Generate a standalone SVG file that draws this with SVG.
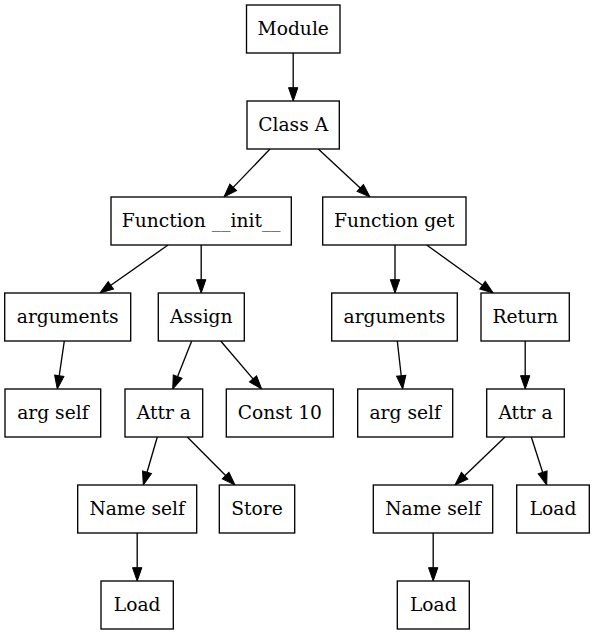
<svg xmlns="http://www.w3.org/2000/svg" width="595" height="635" viewBox="0 0 595 635">
<style>
.n rect{fill:#fff;stroke:#000;stroke-width:1.33}
.n text{font-family:"DejaVu Serif","Liberation Serif",serif;font-size:18.67px;text-anchor:middle;fill:#000}
#edges line{stroke:#000;stroke-width:1.33;marker-end:url(#ah)}
</style>
<defs>
<marker id="ah" markerUnits="userSpaceOnUse" markerWidth="16" markerHeight="12" refX="0" refY="4.67" orient="auto" overflow="visible">
<path d="M0,0 L13.33,4.67 L0,9.33 Z" fill="#000" stroke="#000" stroke-width="1"/>
</marker>
</defs>
<rect width="595" height="635" fill="#fff"/>
<g id="edges">
<line x1="293.2" y1="53" x2="293.2" y2="87.67"/>
<line x1="270" y1="149" x2="233.22" y2="187.37"/>
<line x1="318.3" y1="149" x2="360.23" y2="187.93"/>
<line x1="168" y1="245" x2="110.89" y2="285.31"/>
<line x1="201.2" y1="245" x2="201.2" y2="279.67"/>
<line x1="395" y1="245" x2="395" y2="279.67"/>
<line x1="426.7" y1="245" x2="482.49" y2="285.2"/>
<line x1="397.3" y1="341" x2="401.21" y2="375.75"/>
<line x1="525.2" y1="341" x2="525.2" y2="375.67"/>
<line x1="64.3" y1="341" x2="59.22" y2="375.81"/>
<line x1="191.7" y1="341" x2="177.61" y2="376.6"/>
<line x1="220.7" y1="341" x2="253.04" y2="378.86"/>
<line x1="157.3" y1="437" x2="147.03" y2="472.2"/>
<line x1="187.3" y1="437" x2="225.6" y2="475.54"/>
<line x1="137.2" y1="533" x2="137.2" y2="567.67"/>
<line x1="505" y1="437" x2="464.62" y2="475.77"/>
<line x1="531.3" y1="437" x2="542.63" y2="472.31"/>
<line x1="433.2" y1="533" x2="433.2" y2="567.67"/>
</g>
<g id="module" class="n"><rect x="246.5" y="5" width="93.5" height="48"/><text x="293.25" y="34.7">Module</text></g>
<g id="classA" class="n"><rect x="247" y="101" width="92.3" height="48"/><text x="293.15" y="130.7">Class A</text></g>
<g id="funcInit" class="n"><rect x="111" y="197" width="180.3" height="48"/><text x="201.15" y="226.7">Function __init__</text></g>
<g id="funcGet" class="n"><rect x="322.7" y="197" width="143.3" height="48"/><text x="394.35" y="226.7">Function get</text></g>
<g id="argsL" class="n"><rect x="4.7" y="293" width="126" height="48"/><text x="67.7" y="322.7">arguments</text></g>
<g id="assign" class="n"><rect x="158.3" y="293" width="86" height="48"/><text x="201.3" y="322.7">Assign</text></g>
<g id="argsR" class="n"><rect x="331.7" y="293" width="125.6" height="48"/><text x="394.5" y="322.7">arguments</text></g>
<g id="return" class="n"><rect x="481" y="293" width="88.3" height="48"/><text x="525.15" y="322.7">Return</text></g>
<g id="argSelfL" class="n"><rect x="5" y="389" width="95.7" height="48"/><text x="52.85" y="418.7">arg self</text></g>
<g id="attrL" class="n"><rect x="125" y="389" width="77.7" height="48"/><text x="163.85" y="418.7">Attr a</text></g>
<g id="const10" class="n"><rect x="226.3" y="389" width="107" height="48"/><text x="279.8" y="418.7">Const 10</text></g>
<g id="argSelfR" class="n"><rect x="357.7" y="389" width="95" height="48"/><text x="405.2" y="418.7">arg self</text></g>
<g id="attrR" class="n"><rect x="486.7" y="389" width="77.6" height="48"/><text x="525.5" y="418.7">Attr a</text></g>
<g id="nameSelfL" class="n"><rect x="77.7" y="485" width="119" height="48"/><text x="137.2" y="514.7">Name self</text></g>
<g id="store" class="n"><rect x="219.3" y="485" width="75.4" height="48"/><text x="257" y="514.7">Store</text></g>
<g id="nameSelfR" class="n"><rect x="373.3" y="485" width="119.4" height="48"/><text x="433" y="514.7">Name self</text></g>
<g id="loadR" class="n"><rect x="516.7" y="485" width="72.6" height="48"/><text x="553" y="514.7">Load</text></g>
<g id="loadL" class="n"><rect x="101" y="581" width="72.3" height="48"/><text x="137.15" y="610.7">Load</text></g>
<g id="loadM" class="n"><rect x="397.3" y="581" width="72" height="48"/><text x="433.3" y="610.7">Load</text></g>
</svg>
